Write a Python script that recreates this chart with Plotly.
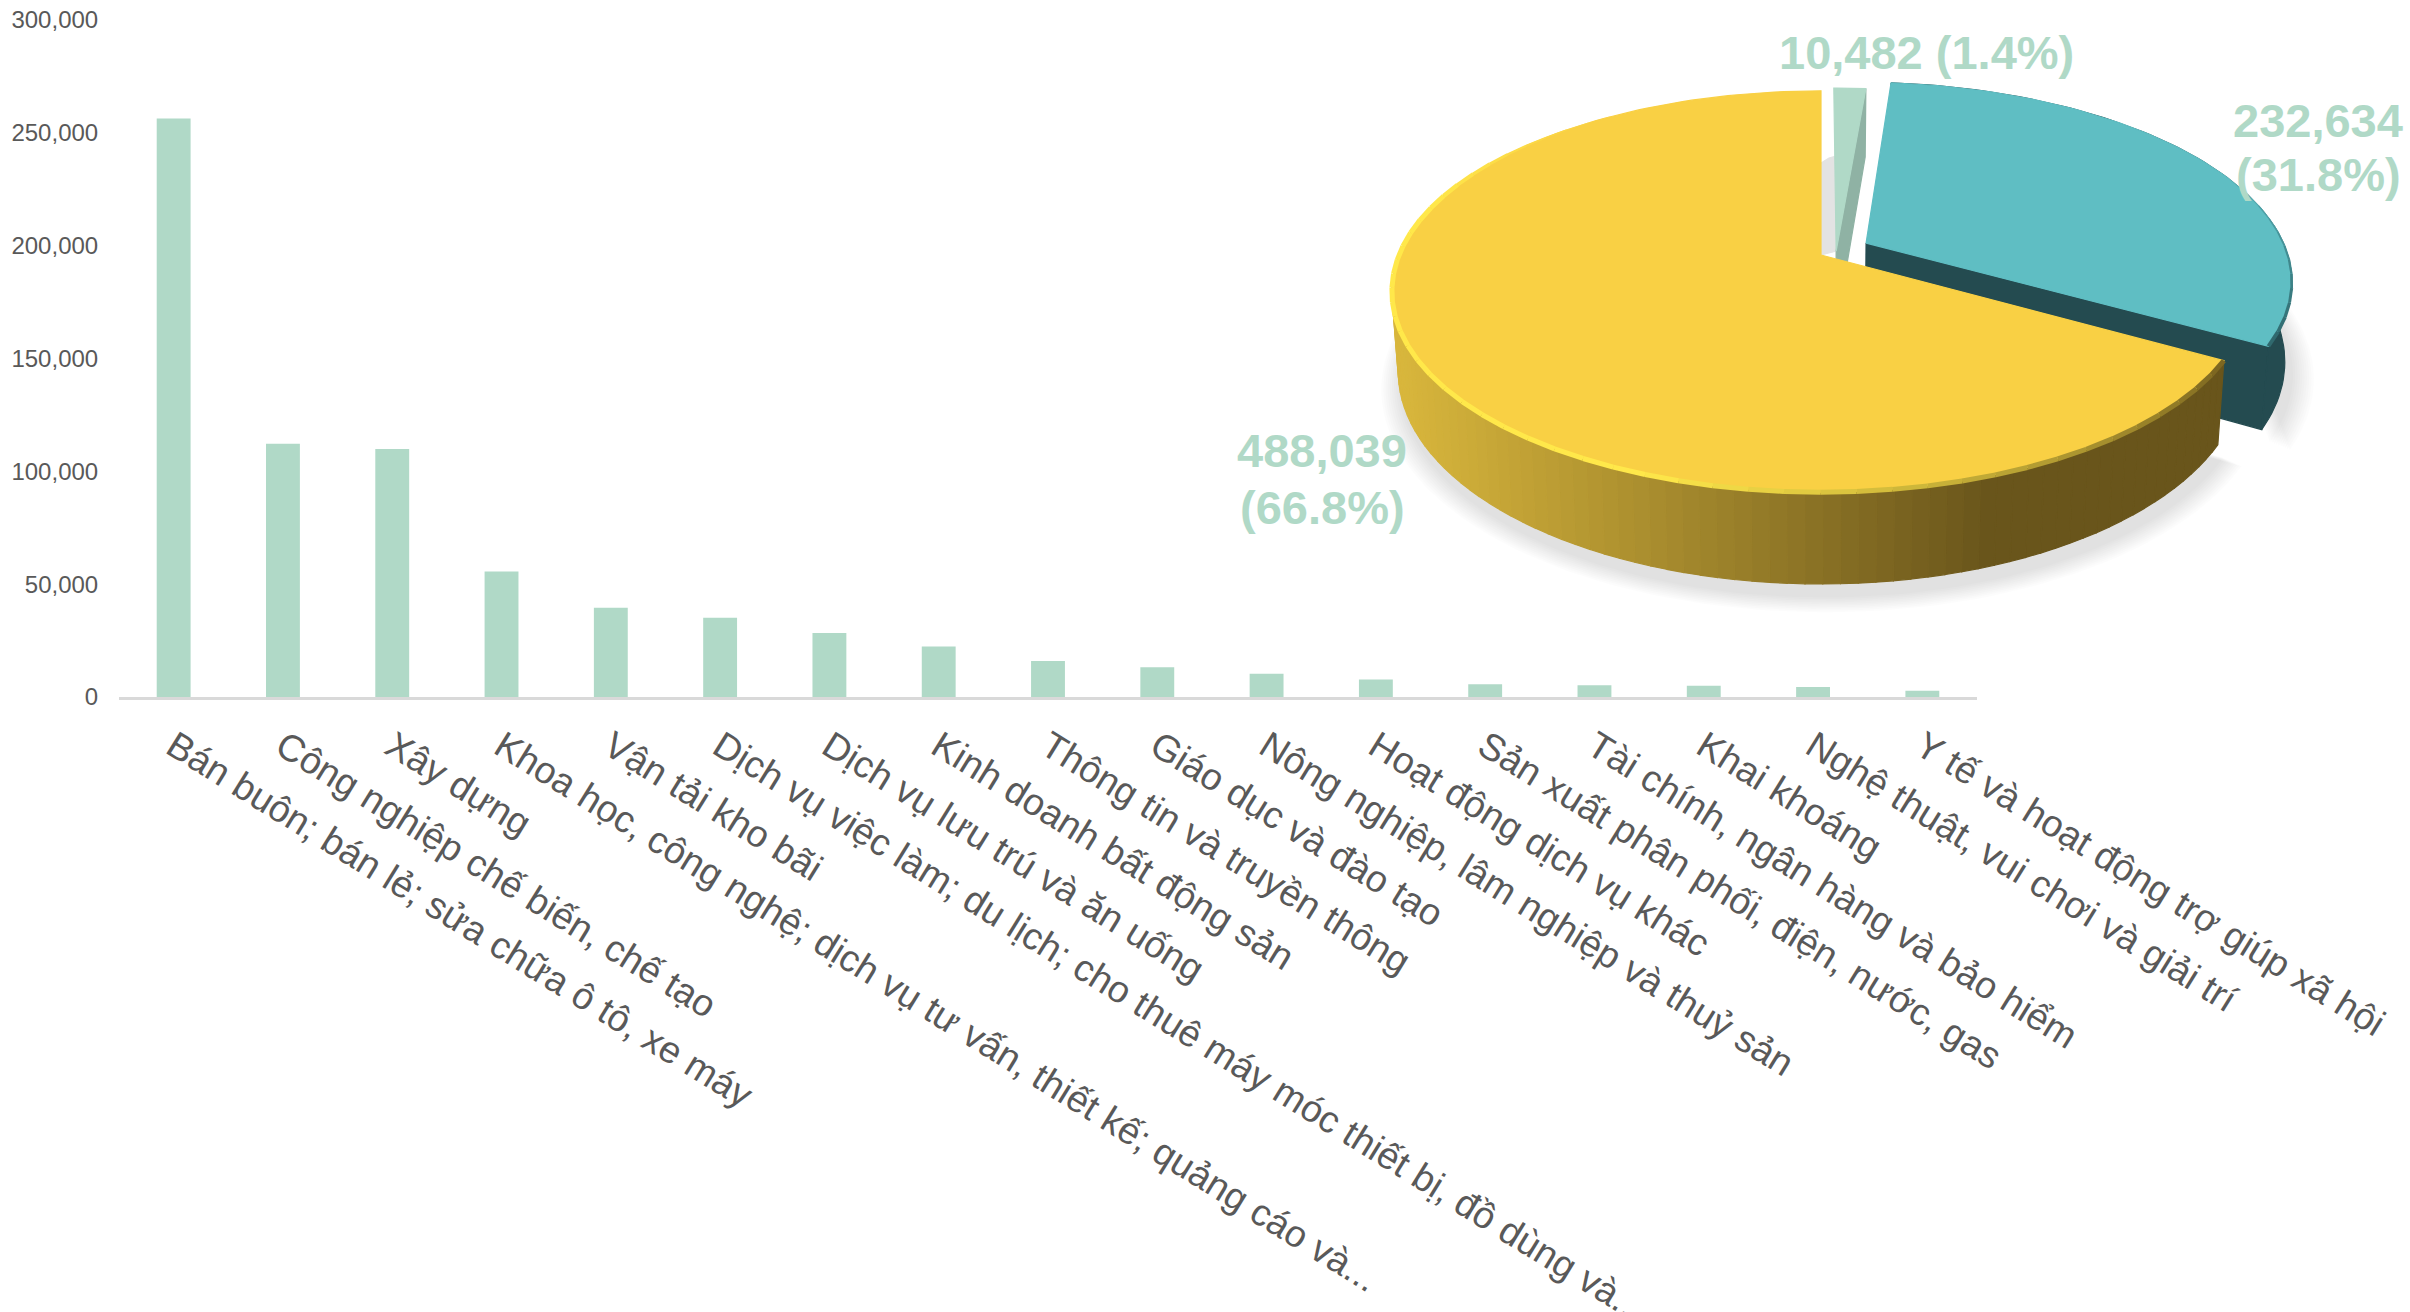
import math
import plotly.graph_objects as go

categories = [
    "Bán buôn; bán lẻ; sửa chữa ô tô, xe máy",
    "Công nghiệp chế biến, chế tạo",
    "Xây dựng",
    "Khoa học, công nghệ; dịch vụ tư vấn, thiết kế; quảng cáo và...",
    "Vận tải kho bãi",
    "Dịch vụ việc làm; du lịch; cho thuê máy móc thiết bị, đồ dùng và...",
    "Dịch vụ lưu trú và ăn uống",
    "Kinh doanh bất động sản",
    "Thông tin và truyền thông",
    "Giáo dục và đào tạo",
    "Nông nghiệp, lâm nghiệp và thuỷ sản",
    "Hoạt động dịch vụ khác",
    "Sản xuất phân phối, điện, nước, gas",
    "Tài chính, ngân hàng và bảo hiểm",
    "Khai khoáng",
    "Nghệ thuật, vui chơi và giải trí",
    "Y tế và hoạt động trợ giúp xã hội",
]
bar_values = [256400, 112200, 109900, 55600, 39500, 35100, 28400, 22400, 15900,
              13200, 10300, 7700, 5600, 5200, 5000, 4400, 2800]
y_ticks = [0, 50000, 100000, 150000, 200000, 250000, 300000]

pie_values = [10482, 232634, 488039]
pie_value_text = ["10,482", "232,634", "488,039"]
pie_share_text = ["(1.4%)", "(31.8%)", "(66.8%)"]

W, H = 2410, 1312
CX, CY, RX, RY, K, T, S = 1821, 255, 422, 194, 0.182, 78, 0.985
LIGHT, TEAL, YELLOW = "#B0D9C7", "#5FBEC3", "#F9D044"
TEAL_DARK, LIGHT_DARK = "#244B50", "#8FB2A4"

total = sum(pie_values)
a0 = 0.0
spans = []
for v in pie_values:
    spans.append((a0, a0 + v / total * 360))
    a0 += v / total * 360
(small_a, teal_a, yellow_a) = spans


def top(x, y):
    w = 1 + K * y
    return CX + RX * x / w, CY - RY * y / w


def bottom(x, y):
    w = 1 + K * y
    return CX + S * RX * x / w, CY - S * RY * y / w + T / w


def rim(a, dx, dy, f=top):
    r = math.radians(a)
    return f(dx + math.sin(r), dy + math.cos(r))


def arc(a, b, step=1.5):
    n = max(2, int(abs(b - a) / step))
    return [a + (b - a) * i / n for i in range(n + 1)]


def poly(points, color, opacity=None):
    xs = [p[0] for p in points] + [points[0][0]]
    ys = [p[1] for p in points] + [points[0][1]]
    return go.Scatter(x=xs, y=ys, xaxis="x2", yaxis="y2", mode="lines", fill="toself",
                      fillcolor=color, line=dict(color=color, width=1.2 if opacity is None else 0),
                      opacity=opacity, hoverinfo="skip", showlegend=False)


def seg(p, q, color, width):
    return go.Scatter(x=[p[0], q[0]], y=[p[1], q[1]], xaxis="x2", yaxis="y2", mode="lines",
                      line=dict(color=color, width=width), hoverinfo="skip", showlegend=False)


def mix(c1, c2, t):
    t = max(0.0, min(1.0, t))
    a = [int(c1[i:i + 2], 16) for i in (1, 3, 5)]
    b = [int(c2[i:i + 2], 16) for i in (1, 3, 5)]
    return "#%02x%02x%02x" % tuple(round(a[i] + (b[i] - a[i]) * t) for i in range(3))


fig = go.Figure()
fig.add_trace(go.Bar(x=categories, y=bar_values, width=0.31, marker=dict(color=LIGHT, line=dict(width=0)),
                     showlegend=False, hoverinfo="skip"))

TDX, TDY = 0.108, 0.062

# soft shadow under the pie
for i in range(10):
    grow = 1.0 + 0.005 * (10 - i)
    for (sa, sb, dx, dy, shift) in ((yellow_a[0], 300, 0, 0, 4), (60, teal_a[1], TDX, TDY, 6)):
        base = [rim(a, dx, dy, bottom) for a in arc(sa, sb)]
        pts = [(CX + shift + (p[0] - CX) * grow, CY + 12 + (p[1] - CY) * grow) for p in base]
        fig.add_trace(poly(pts, "#000000", 0.012))

# teal slice, exploded
fig.add_trace(poly([top(TDX, TDY), rim(teal_a[1], TDX, TDY), rim(teal_a[1], TDX, TDY, bottom), bottom(TDX, TDY)], TEAL_DARK))
fig.add_trace(poly([rim(a, TDX, TDY) for a in arc(teal_a[0], teal_a[1])]
                   + [rim(a, TDX, TDY, bottom) for a in arc(teal_a[1], teal_a[0])], TEAL_DARK))
fig.add_trace(poly([top(TDX, TDY)] + [rim(a, TDX, TDY) for a in arc(teal_a[0], teal_a[1])], TEAL))
teal_rim = arc(70, teal_a[1], 4)
for a, b in zip(teal_rim[:-1], teal_rim[1:]):
    f = ((a + b) / 2 - 70) / (teal_a[1] - 70)
    fig.add_trace(seg(rim(a, TDX, TDY), rim(b, TDX, TDY), mix("#55AEB4", "#2E666B", f), 0.5 + 3.5 * f))

# grey inner face between yellow and the small slice
SDX, SDY = 0.036, 0.02
gx = top(SDX, SDY)[0]
fig.add_trace(poly([top(0, 0), (CX, 163), (CX + 8, 158), (gx, 156), top(SDX, SDY)], "#E3E3E3"))

# small slice
fig.add_trace(poly([top(SDX, SDY), rim(small_a[1], SDX, SDY), rim(small_a[1], SDX, SDY, bottom), bottom(SDX, SDY)], LIGHT_DARK))
fig.add_trace(poly([top(SDX, SDY)] + [rim(a, SDX, SDY) for a in arc(small_a[0], small_a[1], 0.5)], LIGHT))

# yellow slice: wall strips with horizontal shading
wall_angles = arc(yellow_a[0], 300, 2)
for a, b in zip(wall_angles[:-1], wall_angles[1:]):
    sx = (rim(a, 0, 0)[0] + rim(b, 0, 0)[0]) / 2
    t = (sx - 1400) / (1990 - 1400)
    c = mix("#D8B63C", "#69551B", t)
    fig.add_trace(poly([rim(a, 0, 0), rim(b, 0, 0), rim(b, 0, 0, bottom), rim(a, 0, 0, bottom)], c))
fig.add_trace(poly([top(0, 0)] + [rim(a, 0, 0) for a in arc(yellow_a[0], yellow_a[1])], YELLOW))

# bevel highlight along the rim of the yellow slice
rim_angles = arc(yellow_a[0], 325, 4)
for a, b in zip(rim_angles[:-1], rim_angles[1:]):
    m = (a + b) / 2
    width = 5.0
    if m < 200:
        c = mix("#7A6420", "#FFE84A", (m - yellow_a[0]) / (200 - yellow_a[0]))
    elif m < 285:
        c = "#FFE84A"
    else:
        c = mix("#FFE84A", YELLOW, (m - 285) / 40)
        width = max(0.5, 5.0 * (325 - m) / 40)
    fig.add_trace(seg(rim(a, 0, 0), rim(b, 0, 0), c, width))

label_font = dict(family="Liberation Sans", size=47, color=LIGHT, weight="bold")
fig.add_annotation(x=1926, y=52, xref="x2", yref="y2", text=pie_value_text[0] + " " + pie_share_text[0],
                   showarrow=False, font=label_font)
for txt, yy in ((pie_value_text[1], 120), (pie_share_text[1], 174)):
    fig.add_annotation(x=2318, y=yy, xref="x2", yref="y2", text=txt, showarrow=False, font=label_font)
for txt, yy in ((pie_value_text[2], 450), (pie_share_text[2], 507)):
    fig.add_annotation(x=1322, y=yy, xref="x2", yref="y2", text=txt, showarrow=False, font=label_font)

fig.update_layout(
    width=W, height=H, margin=dict(l=0, r=0, t=0, b=0), paper_bgcolor="white", plot_bgcolor="rgba(0,0,0,0)",
    showlegend=False, bargap=0.69,
    xaxis=dict(domain=[119 / W, 1977 / W], type="category", tickmode="array", tickvals=categories,
               ticktext=categories, tickangle=31.7, automargin=False, showgrid=False, zeroline=False,
               showline=True, linecolor="#D9D9D9", linewidth=2.5, ticks="outside", ticklen=10,
               tickcolor="rgba(0,0,0,0)", tickfont=dict(family="Liberation Sans", size=37.5, color="#595959")),
    yaxis=dict(domain=[1 - 697 / H, 1 - 20 / H], range=[0, 300000], tickmode="array", tickvals=y_ticks,
               tickformat=",d", showgrid=False, zeroline=False, showline=False, automargin=False,
               ticks="outside", ticklen=15, tickcolor="rgba(0,0,0,0)",
               tickfont=dict(family="Liberation Sans", size=24, color="#595959")),
    xaxis2=dict(domain=[0, 1], range=[0, W], visible=False, anchor="y2", fixedrange=True),
    yaxis2=dict(domain=[0, 1], range=[H, 0], visible=False, anchor="x2", fixedrange=True),
)
fig.write_html("out.html", config=dict(displayModeBar=False),
               post_script="document.body.style.margin='0';document.body.style.overflow='hidden';")
